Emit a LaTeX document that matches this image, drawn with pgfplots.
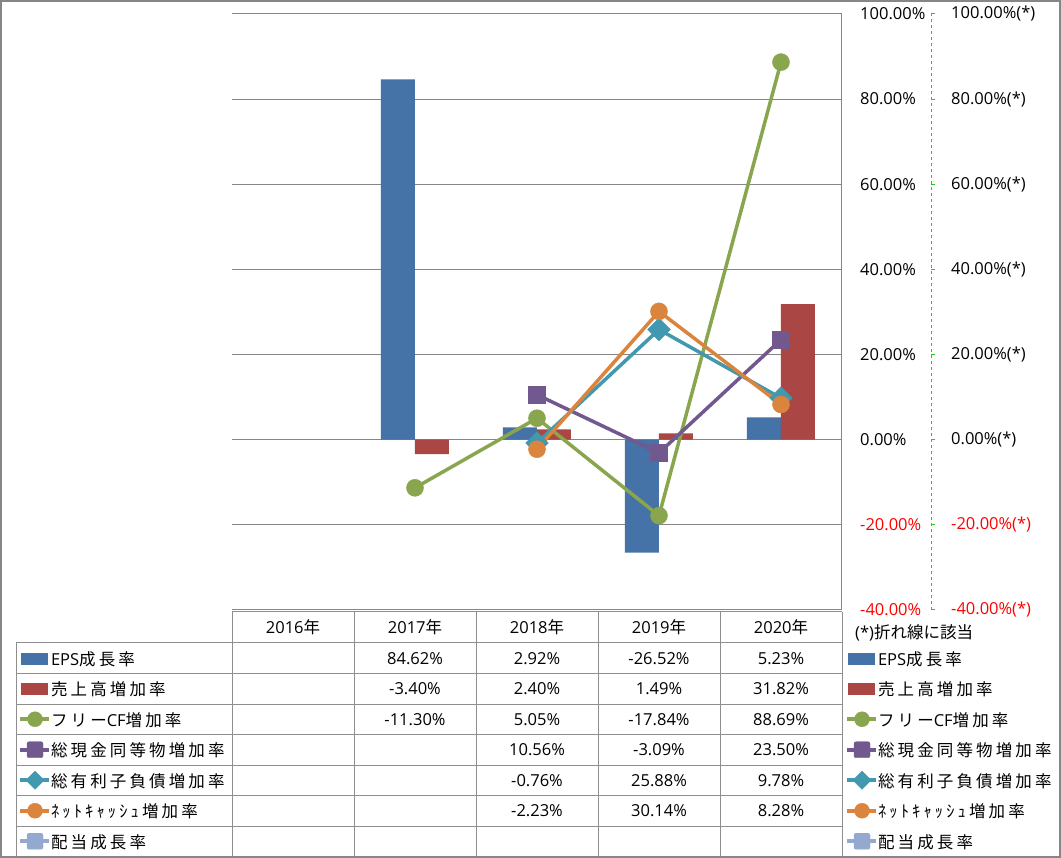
\documentclass[border=0pt]{standalone}
\usepackage{pgfplots}
\pgfplotsset{compat=1.18}
\usepackage{fontspec}
\setmainfont{Open Sans}
\newfontfamily\jp[LetterSpace=19]{Noto Sans CJK JP}
\newfontfamily\jpn{Noto Sans CJK JP}
\newcommand{\J}[1]{{\jp #1}}
\definecolor{cEPS}{HTML}{4572A7}
\definecolor{cSales}{HTML}{AA4643}
\definecolor{cFCF}{HTML}{89A54E}
\definecolor{cCash}{HTML}{71588F}
\definecolor{cDebt}{HTML}{4198AF}
\definecolor{cNet}{HTML}{DB843D}
\definecolor{cDiv}{HTML}{93A9CF}
\definecolor{gridc}{HTML}{868686}
\definecolor{tablec}{HTML}{8E8E8E}
\definecolor{lgreen}{HTML}{22CC22}
\pgfplotsset{
  barleg/.style={legend image code/.code={\fill[#1] (1pt,-5.5pt) rectangle (27pt,5.5pt); \path[draw=none,fill=none] (0pt,-15.25pt) rectangle (31pt,15.25pt);}},
  circleg/.style={legend image code/.code={\draw[#1, line width=4pt] (0pt,0pt) -- (29pt,0pt); \fill[#1] (15pt,0pt) circle (7.5pt); \path[draw=none,fill=none] (0pt,-15.25pt) rectangle (31pt,15.25pt);}},
  sqleg/.style={legend image code/.code={\draw[#1, line width=4pt] (0pt,0pt) -- (29pt,0pt); \fill[#1, rounded corners=2pt] (7pt,-8pt) rectangle (23pt,8pt); \path[draw=none,fill=none] (0pt,-15.25pt) rectangle (31pt,15.25pt);}},
  diamleg/.style={legend image code/.code={\draw[#1, line width=4pt] (0pt,0pt) -- (29pt,0pt); \fill[#1] (15pt,-9pt) -- (24pt,0pt) -- (15pt,9pt) -- (6pt,0pt) -- cycle; \path[draw=none,fill=none] (0pt,-15.25pt) rectangle (31pt,15.25pt);}},
  myleg/.style={legend style={anchor=north west, draw=none, fill=none, inner sep=0pt, outer sep=0pt, row sep=0pt, column sep=0pt, nodes={inner sep=0pt, text depth=0pt, minimum height=30.5pt, anchor=west}}, legend cell align=left},
}
\begin{document}
\begin{tikzpicture}[font=\fontsize{16.5}{20}\selectfont]
\useasboundingbox (0,0) rectangle (1061pt,858pt);
\fill[white] (0,0) rectangle (1061pt,858pt);

\begin{axis}[
  at={(232pt,248pt)}, anchor=south west,
  scale only axis, width=610pt, height=596pt,
  xmin=-0.5, xmax=4.5, ymin=-40, ymax=100,
  axis x line=none, axis y line*=right,
  y axis line style={gridc, line width=1pt},
  ytick={-40,-20,0,20,40,60,80,100},
  yticklabels={{\color{red}-40.00\%},{\color{red}-20.00\%},0.00\%,20.00\%,40.00\%,60.00\%,80.00\%,100.00\%},
  yticklabel style={anchor=west, inner sep=0pt, xshift=18pt},
  major tick length=0pt,
  ymajorgrids, grid style={gridc, line width=1pt},
  myleg,
  legend style={at={(axis description cs:-0.35082,-0.05537)}},
]
\addplot[ybar, bar width=34pt, bar shift=-17pt, fill=cEPS, draw=none, forget plot] coordinates {(1,84.62) (2,2.92) (3,-26.52) (4,5.23)};
\addplot[ybar, bar width=34pt, bar shift=17pt, fill=cSales, draw=none, forget plot] coordinates {(1,-3.40) (2,2.40) (3,1.49) (4,31.82)};
\addplot[cFCF, line width=3.5pt, mark=*, mark size=8.5pt, mark options={fill=cFCF, draw=cFCF, line width=0.5pt}, forget plot] coordinates {(1,-11.30) (2,5.05) (3,-17.84) (4,88.69)};
\addplot[cCash, line width=3.5pt, mark=square*, mark size=8.5pt, mark options={fill=cCash, draw=cCash, line width=0.5pt}, forget plot] coordinates {(2,10.56) (3,-3.09) (4,23.50)};
\addplot[cDebt, line width=3.5pt, mark=square*, mark size=8pt, mark options={fill=cDebt, draw=cDebt, line width=0.5pt, rotate=45}, forget plot] coordinates {(2,-0.76) (3,25.88) (4,9.78)};
\addplot[cNet, line width=3.5pt, mark=*, mark size=8.5pt, mark options={fill=cNet, draw=cNet, line width=0.5pt}, forget plot] coordinates {(2,-2.23) (3,30.14) (4,8.28)};
\addlegendimage{barleg=cEPS}\addlegendentry{EPS\J{成長率}}
\addlegendimage{barleg=cSales}\addlegendentry{\J{売上高増加率}}
\addlegendimage{circleg=cFCF}\addlegendentry{\J{フリー}CF\J{増加率}}
\addlegendimage{sqleg=cCash}\addlegendentry{\J{総現金同等物増加率}}
\addlegendimage{diamleg=cDebt}\addlegendentry{\J{総有利子負債増加率}}
\addlegendimage{circleg=cNet}\addlegendentry{\J{ﾈｯﾄｷｬｯｼｭ増加率}}
\addlegendimage{sqleg=cDiv}\addlegendentry{\J{配当成長率}}
\end{axis}

\begin{axis}[
  at={(232pt,248pt)}, anchor=south west,
  scale only axis, width=699pt, height=596pt,
  xmin=0, xmax=1, ymin=-40, ymax=100,
  separate axis lines,
  axis x line=none, axis y line*=right,
  axis line style={lgreen, dashed, line width=1pt},
  every outer y axis line/.append style={lgreen, dashed, line width=1pt},
  y axis line style={lgreen, dashed, line width=1pt},
  ytick={-40,-20,0,20,40,60,80,100},
  yticklabels={{\color{red}-40.00\%(*)},{\color{red}-20.00\%(*)},0.00\%(*),20.00\%(*),40.00\%(*),60.00\%(*),80.00\%(*),100.00\%(*)},
  yticklabel style={anchor=west, inner sep=0pt, xshift=16pt},
  tick align=outside, major tick length=4pt,
  ytick style={lgreen, line width=1pt},
  myleg,
  legend style={at={(axis description cs:0.87697,-0.05537)}},
]
\addlegendimage{barleg=cEPS}\addlegendentry{EPS\J{成長率}}
\addlegendimage{barleg=cSales}\addlegendentry{\J{売上高増加率}}
\addlegendimage{circleg=cFCF}\addlegendentry{\J{フリー}CF\J{増加率}}
\addlegendimage{sqleg=cCash}\addlegendentry{\J{総現金同等物増加率}}
\addlegendimage{diamleg=cDebt}\addlegendentry{\J{総有利子負債増加率}}
\addlegendimage{circleg=cNet}\addlegendentry{\J{ﾈｯﾄｷｬｯｼｭ増加率}}
\addlegendimage{sqleg=cDiv}\addlegendentry{\J{配当成長率}}
\end{axis}

\begin{scope}[x=1pt, y=-1pt, shift={(0pt,858pt)}]
\draw[tablec, line width=1pt] (232,612) -- (842,612);
\foreach \y in {643,674,704.5,735,765.5,796,826.5} \draw[tablec, line width=1pt] (16,\y) -- (842,\y);
\draw[tablec, line width=1pt] (16,643) -- (16,857);
\foreach \x in {232,354,476,598,720,842} \draw[tablec, line width=1pt] (\x,612) -- (\x,857);
\draw[gridc, line width=1.5pt] (1,1) rectangle (1060,857);
\node[anchor=west, inner sep=0pt] at (855,633) {(*){\jpn 折れ線に該当}};
% header
\foreach \x/\t in {293/2016,415/2017,537/2018,659/2019,781/2020}
  \node[inner sep=0pt] at (\x,627.5) {\t{\jpn 年}};
% values
\node[inner sep=0pt] at (415,658.5) {84.62\%};
\node[inner sep=0pt] at (537,658.5) {2.92\%};
\node[inner sep=0pt] at (659,658.5) {-26.52\%};
\node[inner sep=0pt] at (781,658.5) {5.23\%};
\node[inner sep=0pt] at (415,689) {-3.40\%};
\node[inner sep=0pt] at (537,689) {2.40\%};
\node[inner sep=0pt] at (659,689) {1.49\%};
\node[inner sep=0pt] at (781,689) {31.82\%};
\node[inner sep=0pt] at (415,719.5) {-11.30\%};
\node[inner sep=0pt] at (537,719.5) {5.05\%};
\node[inner sep=0pt] at (659,719.5) {-17.84\%};
\node[inner sep=0pt] at (781,719.5) {88.69\%};
\node[inner sep=0pt] at (537,750) {10.56\%};
\node[inner sep=0pt] at (659,750) {-3.09\%};
\node[inner sep=0pt] at (781,750) {23.50\%};
\node[inner sep=0pt] at (537,780.5) {-0.76\%};
\node[inner sep=0pt] at (659,780.5) {25.88\%};
\node[inner sep=0pt] at (781,780.5) {9.78\%};
\node[inner sep=0pt] at (537,811) {-2.23\%};
\node[inner sep=0pt] at (659,811) {30.14\%};
\node[inner sep=0pt] at (781,811) {8.28\%};
\end{scope}
\end{tikzpicture}
\end{document}
